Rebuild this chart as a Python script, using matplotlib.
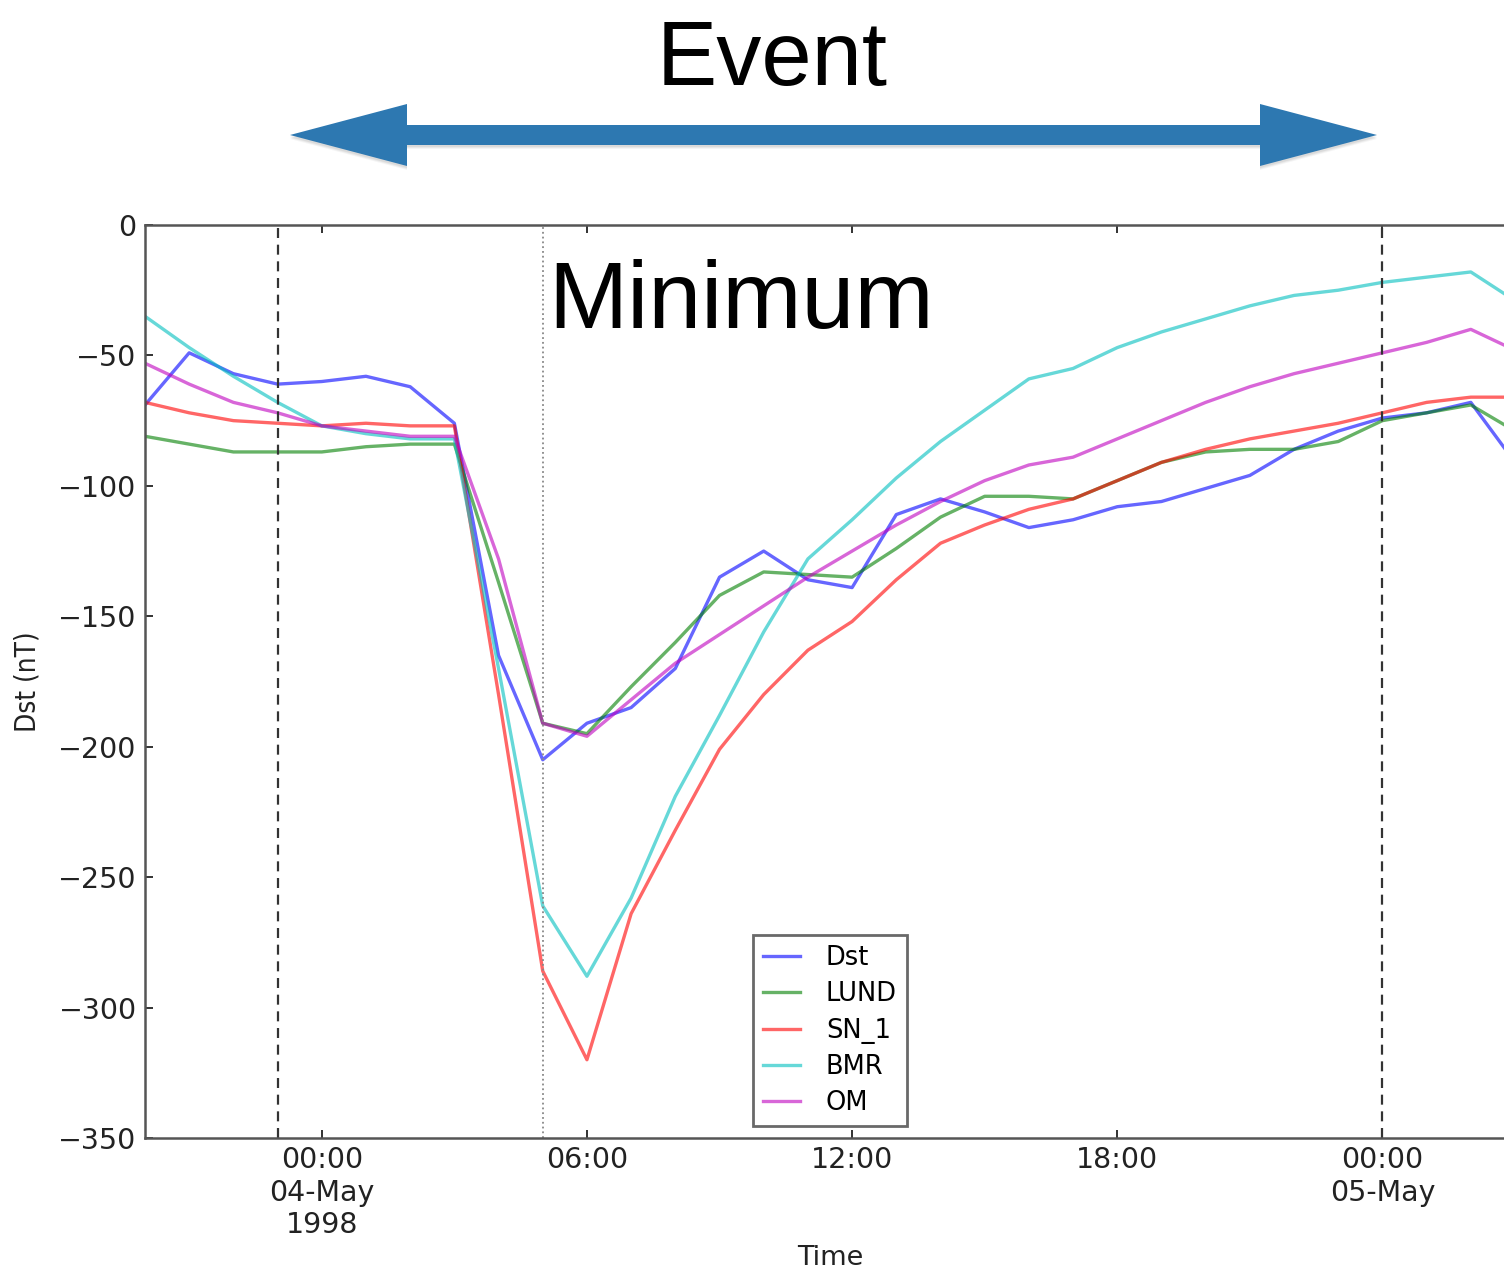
import pandas as pd
import matplotlib
matplotlib.use('Agg')
import matplotlib.pyplot as plt
from matplotlib.patches import Polygon

# Hourly Dst and model predictions, 1998-05-03 20:00 to 1998-05-05 03:00
times = pd.date_range('1998-05-03 20:00', '1998-05-05 03:00', freq='h')

dst = [-69, -49, -57, -61, -60, -58, -62, -76, -165, -205, -191, -185,
       -170, -135, -125, -136, -139, -111, -105, -110, -116, -113, -108, -106,
       -101, -96, -86, -79, -74, -72, -68, -91]
lund = [-81, -84, -87, -87, -87, -85, -84, -84, -137, -191, -195, -177,
        -160, -142, -133, -134, -135, -124, -112, -104, -104, -105, -98, -91,
        -87, -86, -86, -83, -75, -72, -69, -79]
sn_1 = [-68, -72, -75, -76, -77, -76, -77, -77, -180, -286, -320, -264,
        -232, -201, -180, -163, -152, -136, -122, -115, -109, -105, -98, -91,
        -86, -82, -79, -76, -72, -68, -66, -66]
bmr = [-35, -47, -58, -68, -77, -80, -82, -82, -170, -261, -288, -258,
       -219, -188, -156, -128, -113, -97, -83, -71, -59, -55, -47, -41,
       -36, -31, -27, -25, -22, -20, -18, -29]
om = [-53, -61, -68, -72, -77, -79, -81, -81, -128, -191, -196, -182,
      -168, -157, -146, -135, -125, -115, -106, -98, -92, -89, -82, -75,
      -68, -62, -57, -53, -49, -45, -40, -48]

series_names = ['Dst', 'LUND', 'SN_1', 'BMR', 'OM']
series_values = [dst, lund, sn_1, bmr, om]
series_colors = ['b', 'g', 'r', 'c', 'm']

event_bounds = ['1998-05-03 23:00', '1998-05-05 00:00']
minimum_time = '1998-05-04 05:00'

tick_times = ['1998-05-04 00:00', '1998-05-04 06:00', '1998-05-04 12:00',
              '1998-05-04 18:00', '1998-05-05 00:00']
tick_labels = ['00:00\n04-May\n1998', '06:00', '12:00', '18:00', '00:00\n05-May']
y_ticks = [0, -50, -100, -150, -200, -250, -300, -350]

W, H = 1504, 1273


def px(x, y):
    # image pixel (from top-left) -> figure fraction
    return x / W, 1 - y / H


fig = plt.figure(figsize=(W / 100, H / 100), dpi=100)
ax = fig.add_axes([145 / W, 1 - 1138 / H, 1370 / W, 913 / H])

for name, vals, col in zip(series_names, series_values, series_colors):
    ax.plot(times, vals, color=col, alpha=0.6, lw=2.4, label=name)

# event window and time of minimum
for t in event_bounds:
    ax.axvline(pd.Timestamp(t), color='#333333', lw=1.6, ls='--', dashes=(4.5, 3))
ax.axvline(pd.Timestamp(minimum_time), color='#888888', lw=1.3, ls=':')

ax.set_xlim(times[0], times[-1])
ax.set_ylim(-350, 0)
ax.set_xticks([pd.Timestamp(t) for t in tick_times])
ax.set_xticklabels(tick_labels)
ax.set_yticks(y_ticks)
ax.tick_params(direction='in', top=True, right=True, length=6, width=1.3,
               labelsize=20.5, pad=6, colors='#222222')
for s in ax.spines.values():
    s.set_color('#555555')
    s.set_linewidth(1.8)

ax.set_xlabel('Time', fontsize=19.5, labelpad=4, color='#222222')
ax.set_ylabel('Dst (nT)', fontsize=20, labelpad=12, color='#222222',
              fontstretch='condensed')

leg = ax.legend(loc='lower center', fontsize=18.5, fancybox=False,
                handlelength=1.45, handletextpad=1.0, labelspacing=0.4,
                borderpad=0.4, borderaxespad=0.45)
leg.get_frame().set_edgecolor('#444444')
leg.get_frame().set_linewidth(2)

ax.text(pd.Timestamp(minimum_time) + pd.Timedelta(minutes=8), 0.887, 'Minimum',
        transform=ax.get_xaxis_transform(), fontsize=68.5,
        family='Liberation Sans', va='baseline', ha='left')

fig.text(772 / W, 1 - 85 / H, 'Event', fontsize=65, family='Liberation Sans',
         ha='center', va='baseline')

# double-headed arrow over the event window, with a soft drop shadow
arrow_px = [(290, 135), (407, 104), (407, 125), (1260, 125), (1260, 104),
            (1377, 135), (1260, 166), (1260, 145), (407, 145), (407, 166)]
for off, a in [(4, 0.04), (3, 0.05), (2, 0.06)]:
    shadow = Polygon([px(x, y + off) for x, y in arrow_px], closed=True,
                     transform=fig.transFigure, facecolor='#000000', alpha=a,
                     edgecolor='none')
    fig.patches.append(shadow)
arrow = Polygon([px(x, y) for x, y in arrow_px], closed=True,
                transform=fig.transFigure, facecolor='#2d78b1', edgecolor='none')
fig.patches.append(arrow)

plt.savefig('out.png', dpi=100)
